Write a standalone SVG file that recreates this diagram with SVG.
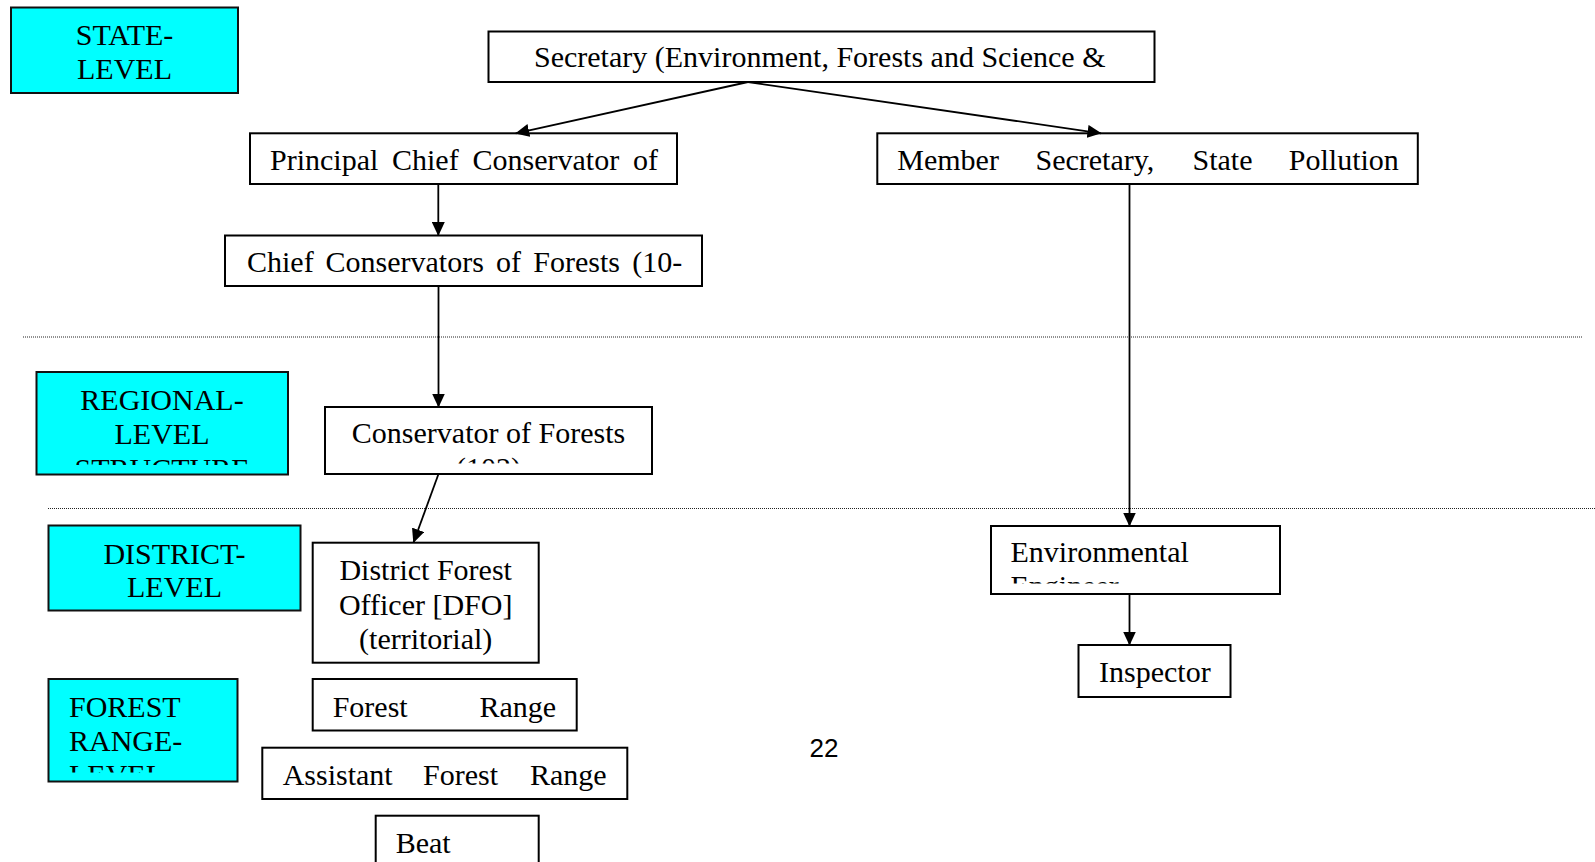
<svg xmlns="http://www.w3.org/2000/svg" width="1595" height="862" viewBox="0 0 1595 862">
<style>
.box{fill:#ffffff;stroke:#000;stroke-width:2}
.lvl{fill:#00ffff;stroke:#111;stroke-width:2}
.t{font-family:"Liberation Serif","Times New Roman",serif;font-size:30px;fill:#000}
.c{text-anchor:middle}
.edge{stroke:#000;stroke-width:1.8;fill:none;marker-end:url(#ah)}
.dot{stroke:#222;stroke-width:1;stroke-dasharray:1 1}
.pg{font-family:"Liberation Sans",Arial,sans-serif;font-size:26px;fill:#000;text-anchor:middle}
</style>
<defs>
<marker id="ah" markerUnits="userSpaceOnUse" markerWidth="14" markerHeight="13" refX="13.5" refY="6.5" orient="auto">
<path d="M0,0 L14,6.5 L0,13 z" fill="#000"/>
</marker>
<clipPath id="cpReg"><rect x="36" y="372" width="252" height="93"/></clipPath>
<clipPath id="cpCons"><rect x="325" y="407" width="327" height="56.5"/></clipPath>
<clipPath id="cpEE"><rect x="991" y="526" width="289" height="57.5"/></clipPath>
<clipPath id="cpFR"><rect x="49" y="679" width="189" height="93.5"/></clipPath>
<clipPath id="cpSec"><rect x="488" y="32" width="666" height="50"/></clipPath>
<clipPath id="cpPCC"><rect x="250" y="133" width="427" height="51"/></clipPath>
<clipPath id="cpCC"><rect x="225" y="235" width="477" height="51"/></clipPath>
<clipPath id="cpMS"><rect x="877" y="133" width="541" height="51"/></clipPath>
</defs>

<g id="separators">
<line class="dot" x1="23" y1="337" x2="1582" y2="337"/>
<line class="dot" x1="48" y1="508.5" x2="1595" y2="508.5"/>
</g>

<g id="state-level">
<rect class="lvl" x="11" y="7.5" width="227" height="85.5"/>
<text class="t c" x="124.5" y="45">STATE-</text>
<text class="t c" x="124.5" y="79">LEVEL</text>
</g>

<g id="regional-level">
<rect class="lvl" x="36.5" y="372" width="251.5" height="102.5"/>
<g clip-path="url(#cpReg)">
<text class="t c" x="162" y="409.5">REGIONAL-</text>
<text class="t c" x="162" y="444">LEVEL</text>
<text class="t c" x="162" y="478.5">STRUCTURE</text>
</g>
</g>

<g id="district-level">
<rect class="lvl" x="48.5" y="525.5" width="252" height="85"/>
<text class="t c" x="174.5" y="563.5">DISTRICT-</text>
<text class="t c" x="174.5" y="597">LEVEL</text>
</g>

<g id="forest-range-level">
<rect class="lvl" x="48.5" y="679" width="189" height="102.5"/>
<g clip-path="url(#cpFR)">
<text class="t" x="69" y="716.5">FOREST</text>
<text class="t" x="69" y="750.5">RANGE-</text>
<text class="t" x="69" y="784.5">LEVEL</text>
</g>
</g>

<g id="secretary">
<rect class="box" x="488.5" y="31.5" width="666" height="50.5"/>
<text class="t" x="534" y="67" clip-path="url(#cpSec)">Secretary (Environment, Forests and Science &amp;</text>
</g>

<g id="pccf">
<rect class="box" x="250" y="133.3" width="427" height="50.7"/>
<text class="t" y="170" clip-path="url(#cpPCC)"><tspan x="270">Principal</tspan> <tspan x="392">Chief</tspan> <tspan x="472.5">Conservator</tspan> <tspan x="633">of</tspan></text>
</g>

<g id="ccf">
<rect class="box" x="225" y="235.5" width="477" height="50.5"/>
<text class="t" y="272" clip-path="url(#cpCC)"><tspan x="247">Chief</tspan> <tspan x="325.5">Conservators</tspan> <tspan x="496">of</tspan> <tspan x="533.3">Forests</tspan> <tspan x="632.3">(10-</tspan></text>
</g>

<g id="member-secretary">
<rect class="box" x="877.3" y="133.3" width="540.5" height="50.7"/>
<text class="t" y="170" clip-path="url(#cpMS)"><tspan x="897.3">Member</tspan> <tspan x="1035.5">Secretary,</tspan> <tspan x="1192.5">State</tspan> <tspan x="1288.8">Pollution</tspan></text>
</g>

<g id="conservator">
<rect class="box" x="325" y="407" width="327" height="67"/>
<g clip-path="url(#cpCons)">
<text class="t c" x="488.5" y="443">Conservator of Forests</text>
<text class="t c" x="488.5" y="477.5">(102)</text>
</g>
</g>

<g id="dfo">
<rect class="box" x="312.7" y="542.7" width="226" height="120"/>
<text class="t c" x="425.7" y="580">District Forest</text>
<text class="t c" x="425.7" y="614.5">Officer [DFO]</text>
<text class="t c" x="425.7" y="648.5">(territorial)</text>
</g>

<g id="forest-range">
<rect class="box" x="312.7" y="679" width="264" height="51.5"/>
<text class="t" y="716.5"><tspan x="332.7">Forest</tspan> <tspan x="479.5">Range</tspan></text>
</g>

<g id="assistant-forest-range">
<rect class="box" x="262.3" y="747.7" width="365" height="51.3"/>
<text class="t" y="784.5"><tspan x="282.7">Assistant</tspan> <tspan x="423">Forest</tspan> <tspan x="530">Range</tspan></text>
</g>

<g id="beat">
<rect class="box" x="375.7" y="815.7" width="163" height="60"/>
<text class="t" x="395.7" y="852.5">Beat</text>
</g>

<g id="environmental-engineer">
<rect class="box" x="991" y="526" width="289" height="68"/>
<g clip-path="url(#cpEE)">
<text class="t" x="1010.5" y="562">Environmental</text>
<text class="t" x="1010.5" y="596">Engineer</text>
</g>
</g>

<g id="inspector">
<rect class="box" x="1078.5" y="645" width="152" height="52"/>
<text class="t" x="1099" y="682">Inspector</text>
</g>

<g id="page-number">
<text class="pg" x="824" y="757">22</text>
</g>

<g id="connectors">
<line class="edge" x1="748" y1="82" x2="515.7" y2="133.3"/>
<line class="edge" x1="748" y1="82" x2="1101" y2="133.3"/>
<line class="edge" x1="438.3" y1="184" x2="438.3" y2="235.5"/>
<line class="edge" x1="438.5" y1="286" x2="438.5" y2="407"/>
<line class="edge" x1="438.5" y1="474" x2="413.5" y2="542.5"/>
<line class="edge" x1="1129.5" y1="184" x2="1129.5" y2="526"/>
<line class="edge" x1="1129.5" y1="594" x2="1129.5" y2="645"/>
</g>
</svg>
